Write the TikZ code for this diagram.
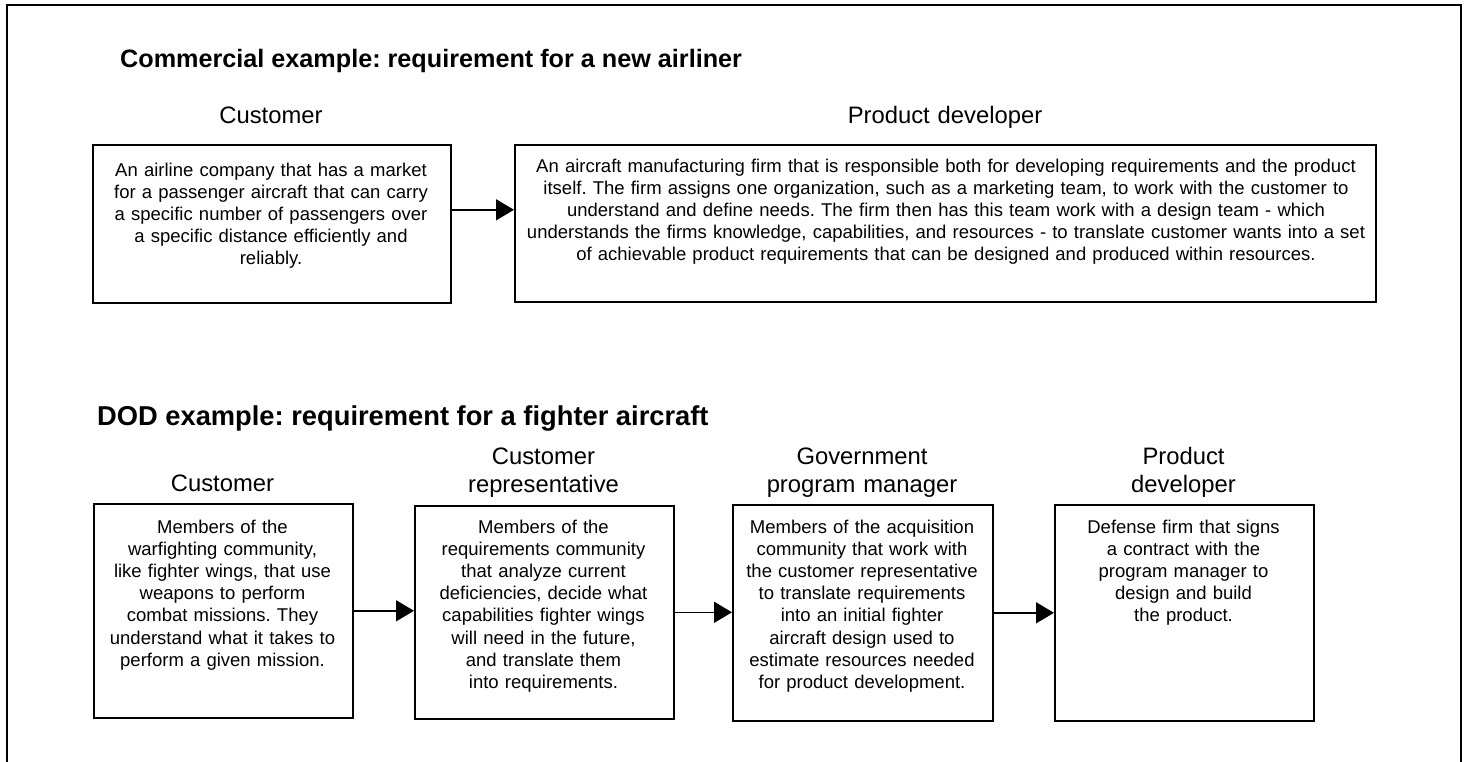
\documentclass[tikz,border=0pt]{standalone}
\usepackage{fontspec}
\setmainfont{Liberation Sans}
\usetikzlibrary{arrows.meta,calc}
\frenchspacing
\begin{document}
\begin{tikzpicture}[x=1pt,y=-1pt,
  frame/.style={line width=2.6pt},
  box/.style={draw,line width=1.6pt,rectangle,inner sep=0pt,anchor=north west},
  body/.style={anchor=base,text width=#1,align=center,inner sep=0pt,font=\fontsize{18.5}{22.2}\selectfont},
  role/.style={anchor=base,text width=300pt,align=center,inner sep=0pt,font=\fontsize{23.8}{28}\selectfont},
  head/.style={anchor=base west,inner sep=0pt,font=\fontsize{#1}{30}\selectfont\bfseries},
  arr/.style={line width=1.6pt,-{Triangle[length=18pt,width=21pt]}}]
\useasboundingbox (0,0) rectangle (1467,761);
\draw[frame] (7,780) -- (7,5) -- (1461,5) -- (1461,780);

% Commercial example
\node[head=25.2] (t1) at (120,67) {Commercial example: requirement for a new airliner};
\node[role] (r1) at (271,123.5) {Customer};
\node[role] (r2) at (945,123.5) {Product developer};
\node[box,minimum width=358pt,minimum height=158pt] (c1) at (92,144) {};
\node[body=350pt] (c1t) at (271,176) {An airline company that has a market\\for a passenger aircraft that can carry\\a specific number of passengers over\\a specific distance efficiently and\\reliably.};
\node[box,minimum width=861pt,minimum height=157pt] (c2) at (514,144) {};
\node[body=850pt] (c2t) at (946,172) {An aircraft manufacturing firm that is responsible both for developing requirements and the product\\itself. The firm assigns one organization, such as a marketing team, to work with the customer to\\understand and define needs. The firm then has this team work with a design team - which\\understands the firms knowledge, capabilities, and resources - to translate customer wants into a set\\of achievable product requirements that can be designed and produced within resources.};
\draw[arr] ([yshift=14pt]c1.east) -- ([yshift=14pt]c1.east -| c2.west);

% DOD example
\node[head=27.3] (t2) at (97,425) {DOD example: requirement for a fighter aircraft};
\node[role] (s1) at (222.5,491) {Customer};
\node[role] (s2) at (543.5,464) {Customer\\representative};
\node[role] (s3) at (862,464) {Government\\program manager};
\node[role] (s4) at (1183.5,464) {Product\\developer};

\node[box,minimum width=259pt,minimum height=214pt] (d1) at (93,503) {};
\node[box,minimum width=259pt,minimum height=213pt] (d2) at (414,505) {};
\node[box,minimum width=260pt,minimum height=216pt] (d3) at (732,504) {};
\node[box,minimum width=259pt,minimum height=216pt] (d4) at (1054,504) {};

\node[body=250pt] (d1t) at (222.5,533) {Members of the\\warfighting community,\\like fighter wings, that use\\weapons to perform\\combat missions. They\\understand what it takes to\\perform a given mission.};
\node[body=250pt] (d2t) at (543.5,533) {Members of the\\requirements community\\that analyze current\\deficiencies, decide what\\capabilities fighter wings\\will need in the future,\\and translate them\\into requirements.};
\node[body=250pt] (d3t) at (862,533) {Members of the acquisition\\community that work with\\the customer representative\\to translate requirements\\into an initial fighter\\aircraft design used to\\estimate resources needed\\for product development.};
\node[body=250pt] (d4t) at (1183.5,533) {Defense firm that signs\\a contract with the\\program manager to\\design and build\\the product.};

\draw[arr] (d1.east) -- (d1.east -| d2.west);
\draw[arr] (d2.east) -- (d2.east -| d3.west);
\draw[arr] (d3.east) -- (d3.east -| d4.west);
\end{tikzpicture}
\end{document}
